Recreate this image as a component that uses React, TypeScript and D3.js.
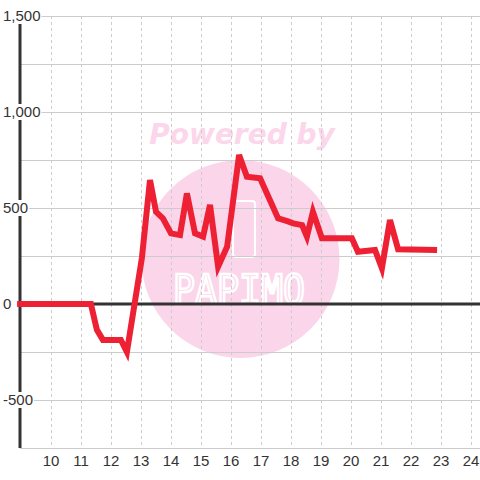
import React, { useEffect, useRef } from "react";
import * as d3 from "d3";

const hours = [8.87, 11.33, 11.53, 11.73, 12.33, 12.53, 13.03, 13.3, 13.5, 13.73, 14.0, 14.3, 14.53, 14.8, 15.07, 15.3, 15.57, 15.87, 16.27, 16.53, 16.97, 17.37, 17.57, 17.9, 18.07, 18.37, 18.53, 18.73, 19.03, 20.03, 20.23, 20.8, 21.03, 21.3, 21.57, 22.87];
const values = [0, 0, -135, -187, -187, -250, 240, 646, 480, 446, 368, 359, 576, 368, 351, 516, 194, 298, 776, 663, 655, 516, 446, 430, 420, 411, 351, 480, 342, 342, 272, 281, 186, 437, 285, 281];
const xTicks = [10, 11, 12, 13, 14, 15, 16, 17, 18, 19, 20, 21, 22, 23, 24];
const yLabelTicks = [-500, 0, 500, 1000, 1500];
const yGridTicks = [-500, -250, 0, 250, 500, 750, 1000, 1250, 1500];

export default function App() {
  const ref = useRef<SVGSVGElement>(null);
  useEffect(() => {
    const svg = d3.select(ref.current);
    svg.selectAll("*").remove();
    const W = 480, H = 480;
    const left = 20, right = 480, top = 16, bottom = 448;
    const x = d3.scaleLinear().domain([9, 24]).range([21, 471]);
    const y = d3.scaleLinear().domain([-750, 1500]).range([bottom, top]);
    const font = "'Liberation Sans', Arial, sans-serif";

    svg.append("rect").attr("width", W).attr("height", H).attr("fill", "#fff");

    // watermark
    const wm = svg.append("g");
    wm.append("circle").attr("cx", 240.5).attr("cy", 259).attr("r", 99).attr("fill", "#fbd5ea");
    wm.append("text").attr("x", 242).attr("y", 144).attr("text-anchor", "middle")
      .attr("font-family", "'DejaVu Sans', sans-serif").attr("font-weight", "bold").attr("font-style", "italic")
      .attr("font-size", 28).attr("fill", "#fcd6ea").text("Powered by");
    wm.append("rect").attr("x", 233).attr("y", 201).attr("width", 22).attr("height", 56).attr("rx", 3)
      .attr("fill", "none").attr("stroke", "#fff").attr("stroke-width", 2);
    wm.append("text").attr("x", 239).attr("y", 304).attr("text-anchor", "middle")
      .attr("font-family", "'DejaVu Sans Mono', monospace").attr("font-size", 40)
      .attr("textLength", 132).attr("lengthAdjust", "spacingAndGlyphs")
      .attr("fill", "none").attr("stroke", "#fff").attr("stroke-width", 2.5).text("PAPIMO");

    // grid
    svg.append("g").selectAll("line.h").data(yGridTicks.filter(d => d !== 0)).join("line")
      .attr("x1", left).attr("x2", right).attr("y1", d => y(d)).attr("y2", d => y(d))
      .attr("stroke", "#cccccc").attr("stroke-width", 1).attr("shape-rendering", "crispEdges");
    svg.append("line").attr("x1", left).attr("x2", right).attr("y1", bottom).attr("y2", bottom)
      .attr("stroke", "#cccccc").attr("stroke-width", 1).attr("shape-rendering", "crispEdges");
    svg.append("g").selectAll("line").data(xTicks).join("line")
      .attr("x1", d => x(d)).attr("x2", d => x(d)).attr("y1", top).attr("y2", bottom)
      .attr("stroke", "#cccccc").attr("stroke-width", 1).attr("stroke-dasharray", "3,3")
      .attr("shape-rendering", "crispEdges");

    // zero line & y axis
    svg.append("line").attr("x1", left).attr("x2", right).attr("y1", y(0)).attr("y2", y(0))
      .attr("stroke", "#333").attr("stroke-width", 3);
    svg.append("line").attr("x1", left).attr("x2", left).attr("y1", top).attr("y2", bottom)
      .attr("stroke", "#333").attr("stroke-width", 3);

    // data line
    const data = hours.map((h, i) => [h, values[i]] as [number, number]);
    const line = d3.line<[number, number]>().x(d => x(d[0])).y(d => y(d[1]));
    svg.append("path").attr("d", line(data)!).attr("fill", "none").attr("stroke", "#ee2034")
      .attr("stroke-width", 6).attr("stroke-linejoin", "miter").attr("stroke-miterlimit", 4);

    // y labels
    const fmt = (v: number) => d3.format(",")(v).replace("\u2212", "-");
    const yl = svg.append("g");
    yLabelTicks.forEach(v => {
      const g = yl.append("g");
      const t = g.append("text").attr("x", 3).attr("y", y(v)).attr("dy", "0.35em")
        .attr("font-family", font).attr("font-size", 15).attr("fill", "#333")
        .text(fmt(v));
      const bb = (t.node() as SVGTextElement).getBBox();
      g.insert("rect", "text").attr("x", bb.x - 1).attr("y", y(v) - 8).attr("width", bb.width + 2)
        .attr("height", 16).attr("fill", "#fff");
    });

    // x labels
    svg.append("g").selectAll("text").data(xTicks).join("text")
      .attr("x", d => x(d)).attr("y", 466).attr("text-anchor", "middle")
      .attr("font-family", font).attr("font-size", 15).attr("fill", "#333")
      .text(d => String(d));
  }, []);
  return (
    <svg ref={ref} width={480} height={480} style={{ position: "absolute", left: 0, top: 0 }} />
  );
}
